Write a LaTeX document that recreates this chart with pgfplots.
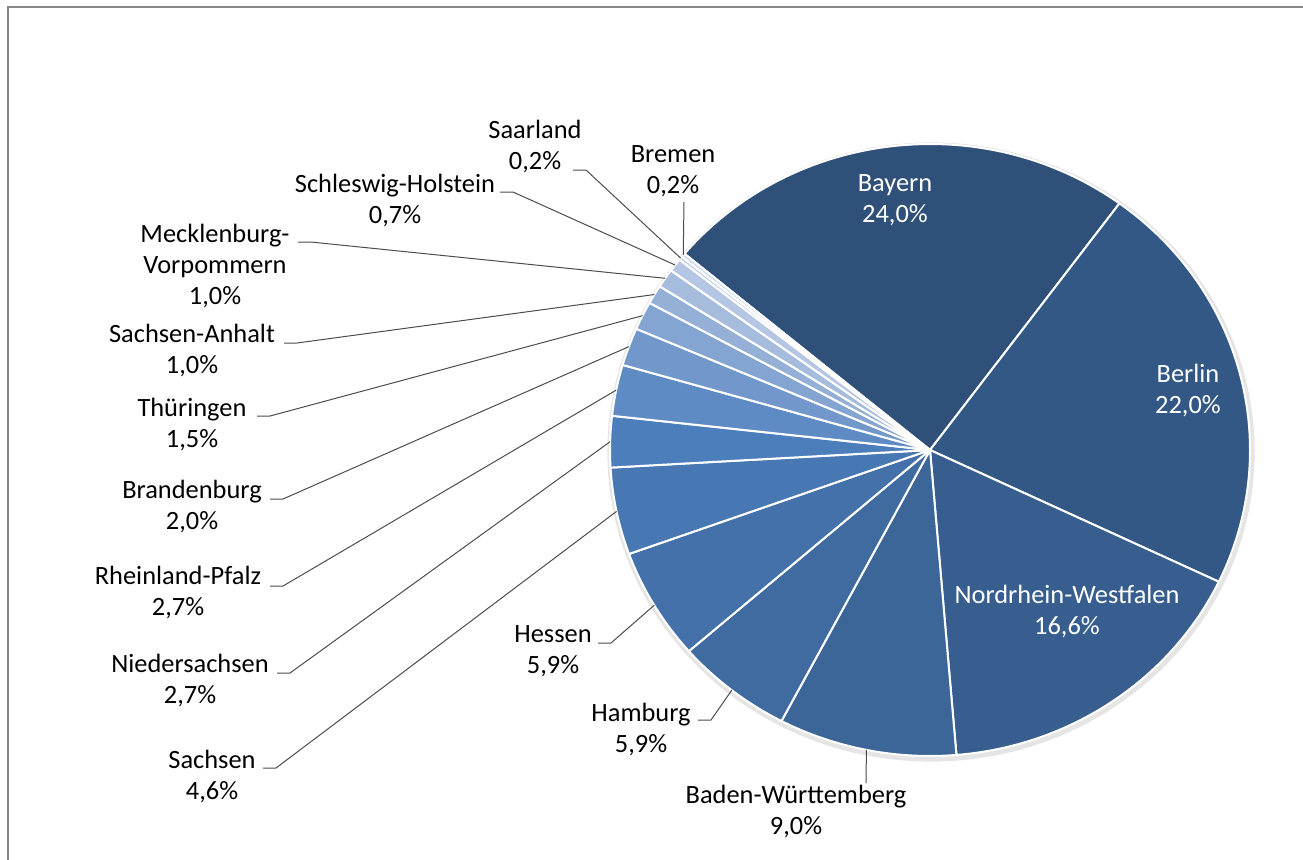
\documentclass[border=0pt]{standalone}
\usepackage{pgfplots}
\pgfplotsset{compat=1.18}
\usepackage{fontspec}
\setmainfont{Carlito}

\definecolor{cBay}{HTML}{2F5179}
\definecolor{cBer}{HTML}{335885}
\definecolor{cNRW}{HTML}{385E8F}
\definecolor{cBW}{HTML}{3C6598}
\definecolor{cHH}{HTML}{406BA1}
\definecolor{cHE}{HTML}{4471AA}
\definecolor{cSN}{HTML}{4878B3}
\definecolor{cNI}{HTML}{4D7EBC}
\definecolor{cRP}{HTML}{5F8BC4}
\definecolor{cBB}{HTML}{7298CB}
\definecolor{cTH}{HTML}{84A4D1}
\definecolor{cST}{HTML}{95B0D7}
\definecolor{cMV}{HTML}{A5BCDD}
\definecolor{cSH}{HTML}{B4C6E3}
\definecolor{cSL}{HTML}{C2D0E8}
\definecolor{cHB}{HTML}{CFDAEE}
\definecolor{framegray}{HTML}{878787}

\newcommand\pct[1]{\pgfmathprintnumber[fixed,fixed zerofill,precision=1,use comma,assume math mode=true]{#1}\%}

% pie geometry in picture pixels (y downwards)
\def\cx{930}\def\cy{450}\def\rx{320}\def\ry{306}\def\startang{140.1}

% share / colour / text colour / name / label x / label y / leader kind / leader x / leader y
\def\slices{%
24.0/cBay/white/Bayern/895/200/0/0/0,
22.0/cBer/white/Berlin/1188/391/0/0/0,
16.6/cNRW/white/Nordrhein-Westfalen/1067/612/0/0/0,
9.0/cBW/black/Baden-Württemberg/796/812/2/866/783,
5.9/cHH/black/Hamburg/641/730/1/698/720,
5.9/cHE/black/Hessen/553/651/1/598/643,
4.6/cSN/black/Sachsen/212/777/1/263/768,
2.7/cNI/black/Niedersachsen/190/681/1/277/673,
2.7/cRP/black/Rheinland-Pfalz/178/593/1/270/586,
2.0/cBB/black/Brandenburg/192/507/1/270/499,
1.5/cTH/black/Thüringen/192/425/1/257/416,
1.0/cST/black/Sachsen-Anhalt/192/351/1/284/343,
1.0/cMV/black/{Mecklenburg-\\Vorpommern}/215/266/1/298/242,
0.7/cSH/black/Schleswig-Holstein/395/201/1/500/192,
0.2/cSL/black/Saarland/535/147/1/573/170,
0.2/cHB/black/Bremen/673/171/2/684/202}

\begin{document}
\begin{tikzpicture}[lbl/.style={font=\fontsize{13.2}{15.5}\selectfont, align=center, inner sep=0pt}]
\begin{axis}[name=ax, x=0.5pt, y=0.5pt, xmin=0, xmax=1303, ymin=0, ymax=859,
  y dir=reverse, hide axis, clip=false]
\pgfplotsextra{
  \draw[framegray, line width=1pt] (axis cs:7.5,880) -- (axis cs:7.5,6.5) -- (axis cs:1320,6.5);
  \fill[black!10] (axis cs:\cx+1,\cy+2) ellipse[x radius=161.8pt, y radius=154.8pt];
  % slices
  \gdef\cum{0}
  \foreach \v/\col/\tc/\nm/\lx/\ly/\kind/\sx/\sy in \slices {
    \pgfmathsetmacro\angA{\startang-3.6*\cum}
    \pgfmathsetmacro\angB{\angA-3.6*\v}
    \fill[\col, draw=white, line width=1pt, line join=round]
      (axis cs:\cx,\cy) -- (axis cs:{\cx+\rx*cos(\angA)},{\cy-\ry*sin(\angA)})
      arc[start angle=\angA, end angle=\angB, x radius=160pt, y radius=153pt] -- cycle;
    \pgfmathsetmacro\cum{\cum+\v}\global\let\cum\cum
  }
  % labels and leader lines
  \gdef\cum{0}
  \foreach \v/\col/\tc/\nm/\lx/\ly/\kind/\sx/\sy in \slices {
    \pgfmathsetmacro\angM{\startang-3.6*(\cum+\v/2)}
    \pgfmathsetmacro\ex{\cx+\rx*cos(\angM)}
    \pgfmathsetmacro\ey{\cy-\ry*sin(\angM)}
    \ifcase\kind\relax
    \or
      \draw[black!70, line width=0.5pt] (axis cs:\sx,\sy) -- (axis cs:\sx+13,\sy) -- (axis cs:\ex,\ey);
    \or
      \draw[black!70, line width=0.5pt] (axis cs:\sx,\sy) -- (axis cs:\ex,\ey);
    \fi
    \node[lbl, text=\tc] at (axis cs:\lx,\ly) {\nm\\\pct{\v}};
    \pgfmathsetmacro\cum{\cum+\v}\global\let\cum\cum
  }
}
\end{axis}
\pgfresetboundingbox
\useasboundingbox (ax.south west) rectangle (ax.north east);
\end{tikzpicture}
\end{document}
